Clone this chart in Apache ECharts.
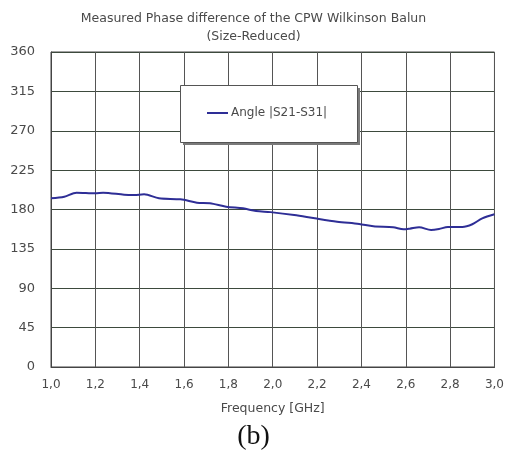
<!DOCTYPE html>
<html><head><meta charset="utf-8">
<script src="https://cdn.jsdelivr.net/npm/echarts@6/dist/echarts.min.js"></script>
<style>html,body{margin:0;padding:0;background:#fff}#c{width:507px;height:452px}</style>
</head><body><div id="c"></div>
<script>
const titleText = 'Measured Phase difference of the CPW Wilkinson Balun';
const subtitleText = '(Size-Reduced)';
const seriesName = 'Angle |S21-S31|';
const xName = 'Frequency [GHz]';
const caption = '(b)';
const freq = [1.0, 1.06, 1.115, 1.2, 1.235, 1.33, 1.375, 1.42, 1.487, 1.584, 1.658, 1.717, 1.79, 1.866, 1.925, 1.99, 2.097, 2.19, 2.29, 2.39, 2.454, 2.543, 2.59, 2.618, 2.66, 2.714, 2.75, 2.79, 2.855, 2.9, 2.945, 3.0];
const angle = [192.8, 194.6, 199.2, 198.5, 199.2, 196.9, 196.6, 197.3, 192.8, 191.6, 187.8, 187.1, 183.2, 181.3, 178.3, 177.0, 173.7, 169.9, 166.1, 163.4, 160.8, 159.7, 157.4, 158.1, 159.7, 156.6, 157.7, 160.0, 160.0, 163.1, 169.9, 174.5];
const yMin = 0, yMax = 360, yStep = 45;
const xMin = 1.0, xMax = 3.0, xStep = 0.2;

const chart = echarts.init(document.getElementById('c'));
const txt = '#4a4a4a';
chart.setOption({
  animation: false,
  backgroundColor: '#fff',
  textStyle: {fontFamily: 'DejaVu Sans'},
  title: [
    {text: titleText, left: 'center', top: 7, textStyle: {fontSize: 12.5, fontWeight: 'normal', color: txt, fontFamily: 'DejaVu Sans'}},
    {text: subtitleText, left: 'center', top: 25, textStyle: {fontSize: 12.5, fontWeight: 'normal', color: txt, fontFamily: 'DejaVu Sans'}},
    {text: caption, left: 'center', top: 418, textStyle: {fontSize: 28, fontWeight: 'normal', color: '#111', fontFamily: 'Liberation Serif'}}
  ],
  graphic: [
    {type: 'rect', z: 5, silent: true, shape: {x: 183, y: 88, width: 177, height: 57}, style: {fill: '#7a7a7a'}},
    {type: 'rect', z: 5, silent: true, shape: {x: 180.5, y: 85.5, width: 177, height: 57}, style: {fill: '#fff', stroke: '#555', lineWidth: 1}}
  ],
  legend: {
    left: 180, top: 85, z: 8,
    padding: [22, 22, 22, 27],
    itemWidth: 21, itemHeight: 2, itemGap: 0,
    icon: 'rect',
    textStyle: {fontSize: 12, color: txt, padding: [0, 0, 0, -2]},
    data: [seriesName]
  },
  grid: {left: 51, right: 8, top: 52, bottom: 85, containLabel: false,
    show: true, borderColor: '#444', borderWidth: 1},
  xAxis: {
    type: 'value', min: xMin, max: xMax, interval: xStep,
    name: xName, nameLocation: 'middle', nameGap: 35,
    nameTextStyle: {fontSize: 12.5, color: txt},
    axisLine: {show: true, lineStyle: {color: '#444'}},
    axisTick: {show: false},
    axisLabel: {fontSize: 12, color: txt, margin: 12,
      formatter: v => v.toFixed(1).replace('.', ',')},
    splitLine: {show: true, lineStyle: {color: '#555', width: 1}}
  },
  yAxis: {
    type: 'value', min: yMin, max: yMax, interval: yStep,
    axisLine: {show: true, lineStyle: {color: '#444'}},
    axisTick: {show: false},
    axisLabel: {fontSize: 13, color: txt, margin: 16},
    splitLine: {show: true, lineStyle: {color: '#3d4a3d', width: 1}}
  },
  series: [{
    name: seriesName, type: 'line', showSymbol: false, smooth: 0.3,
    data: freq.map((f, i) => [f, angle[i]]),
    lineStyle: {color: '#2e2e96', width: 2},
    itemStyle: {color: '#2e2e96'}
  }]
});
</script></body></html>
